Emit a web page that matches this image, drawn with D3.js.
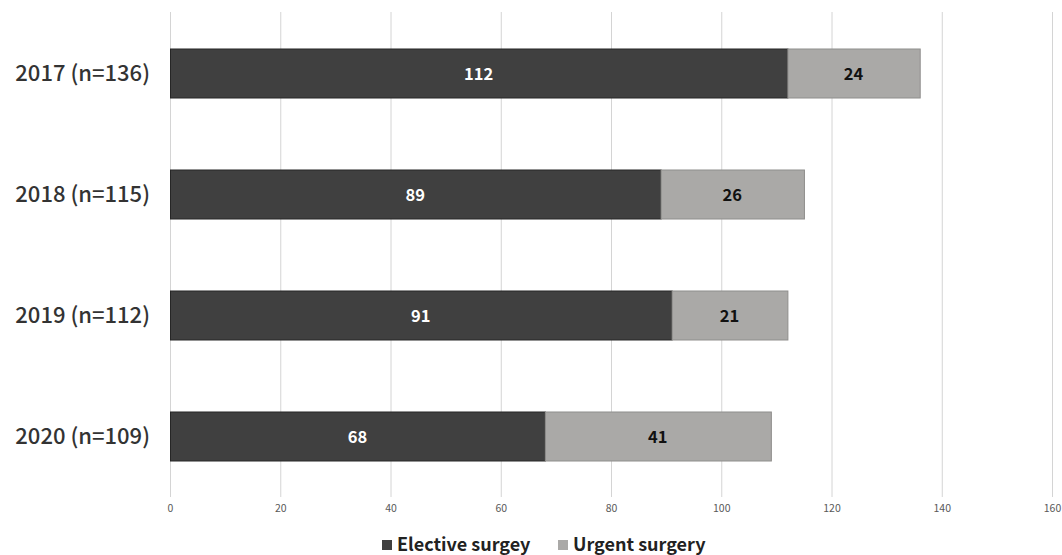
<!DOCTYPE html>
<html>
<head>
<meta charset="utf-8">
<script src="https://cdn.jsdelivr.net/npm/d3@7"></script>
<style>
  html, body { margin: 0; padding: 0; background: #fff; }
  svg { display: block; }
</style>
</head>
<body>
<svg id="chart" width="1062" height="555"></svg>
<script>
// Surgery counts per year, split by type
const years = ["2017 (n=136)", "2018 (n=115)", "2019 (n=112)", "2020 (n=109)"];
const elective = [112, 89, 91, 68];
const urgent = [24, 26, 21, 41];
const xTicks = [0, 20, 40, 60, 80, 100, 120, 140, 160];
const seriesNames = ["Elective surgey", "Urgent surgery"];

const svg = d3.select("#chart");
const font = "'Noto Sans CJK JP', 'Noto Sans', sans-serif";

const x = d3.scaleLinear().domain([0, 160]).range([170, 1052]);
const y = d3.scaleBand().domain(years).range([12.5, 496.5])
  .paddingInner(0.595).paddingOuter(0.2975);

// vertical gridlines
svg.append("g").selectAll("line").data(xTicks).join("line")
  .attr("x1", d => x(d) + 0.5).attr("x2", d => x(d) + 0.5)
  .attr("y1", 12).attr("y2", 497)
  .attr("stroke", "#d4d4d4").attr("stroke-width", 1);

// bottom axis labels
const axis = d3.axisBottom(x).tickValues(xTicks).tickSize(0).tickPadding(0);
const ax = svg.append("g").attr("transform", "translate(0,505)").call(axis);
ax.select(".domain").remove();
ax.selectAll("text").attr("font-family", font).attr("font-size", 10.5)
  .attr("fill", "#595959").attr("dy", "0.71em");

const rows = years.map((c, i) => ({ c, e: elective[i], u: urgent[i] }));

// elective segment
svg.append("g").selectAll("rect").data(rows).join("rect")
  .attr("x", x(0) + 0.5).attr("y", d => y(d.c) + 0.5)
  .attr("width", d => x(d.e) - x(0)).attr("height", y.bandwidth())
  .attr("fill", "#404040").attr("stroke", "#262626").attr("stroke-width", 1);

// urgent segment
svg.append("g").selectAll("rect").data(rows).join("rect")
  .attr("x", d => x(d.e) + 0.5).attr("y", d => y(d.c) + 0.5)
  .attr("width", d => x(d.e + d.u) - x(d.e)).attr("height", y.bandwidth())
  .attr("fill", "#aaa9a7").attr("stroke", "#8f8e8c").attr("stroke-width", 1);

// value labels
const lab = svg.append("g").attr("font-family", font).attr("font-size", 16.5)
  .attr("font-weight", "bold").attr("text-anchor", "middle");
lab.selectAll("text.e").data(rows).join("text").attr("class", "e")
  .attr("x", d => (x(0) + x(d.e)) / 2).attr("y", d => y(d.c) + y.bandwidth() / 2 + 1)
  .attr("dy", "0.35em").attr("fill", "#ffffff").text(d => d.e);
lab.selectAll("text.u").data(rows).join("text").attr("class", "u")
  .attr("x", d => (x(d.e) + x(d.e + d.u)) / 2).attr("y", d => y(d.c) + y.bandwidth() / 2 + 1)
  .attr("dy", "0.35em").attr("fill", "#111111").text(d => d.u);

// category labels
svg.append("g").selectAll("text").data(years).join("text")
  .attr("x", 150).attr("y", d => y(d) + y.bandwidth() / 2)
  .attr("dy", "0.35em").attr("text-anchor", "end")
  .attr("font-family", font).attr("font-size", 22).attr("font-weight", 500)
  .attr("fill", "#333333").text(d => d);

// legend
const legend = svg.append("g").attr("font-family", font).attr("font-size", 18)
  .attr("font-weight", "bold").attr("fill", "#222");
const colors = ["#404040", "#aaa9a7"];
const lx = [382, 558];
seriesNames.forEach((name, i) => {
  legend.append("rect").attr("x", lx[i]).attr("y", 540).attr("width", 10).attr("height", 10)
    .attr("fill", colors[i]);
  legend.append("text").attr("x", lx[i] + 15).attr("y", 545).attr("dy", "0.35em")
    .text(name);
});
</script>
</body>
</html>
